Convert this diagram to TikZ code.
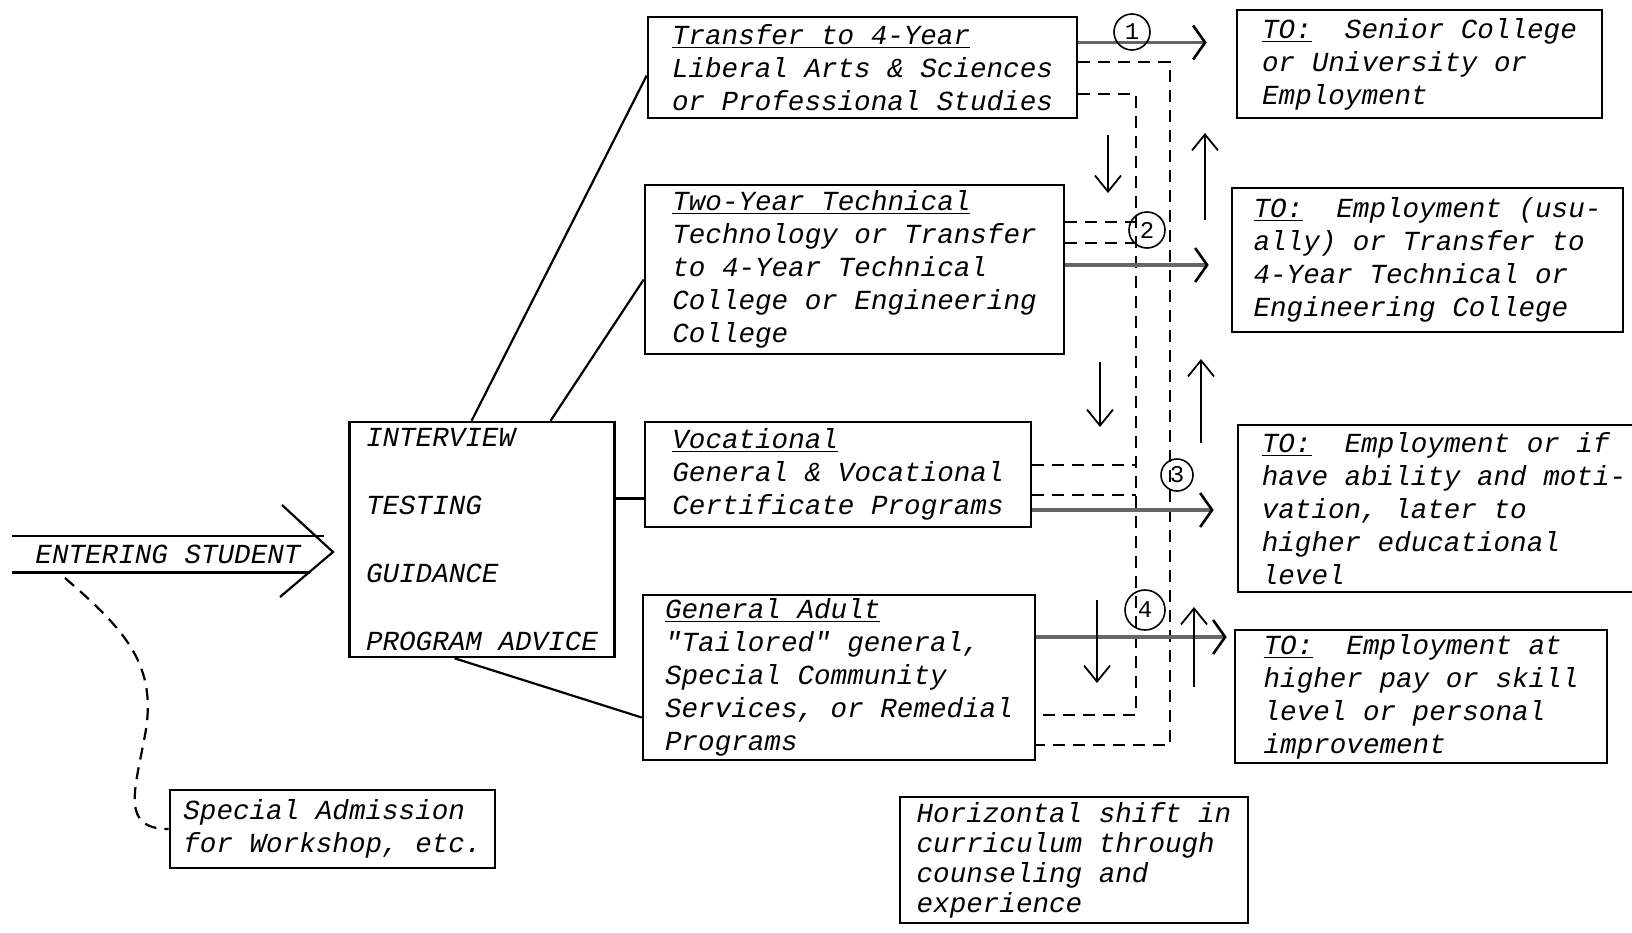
\documentclass[tikz,border=0pt]{standalone}
\usepackage{fontspec}
\usepackage{tikz}
\usetikzlibrary{arrows.meta,calc}
\newfontfamily\scanfont{Liberation Mono}

\begin{document}
\begin{tikzpicture}[x=0.5pt, y=-0.5pt,
	every node/.style={font=\scanfont\itshape\fontsize{13.8}{16.5}\selectfont},
	prog/.style={draw, line width=1.3pt, align=left, inner sep=1pt},
	num/.style={draw, circle, line width=0.8pt, inner sep=0pt, font=\scanfont\fontsize{12}{12}\selectfont},
	link/.style={line width=1.1pt},
	route/.style={line width=1.6pt, draw=black!60, -{Straight Barb[length=6pt, width=17pt, line width=1.3pt, color=black]}},
	shiftline/.style={line width=1.1pt, dash pattern=on 6pt off 4pt},
	move/.style={line width=0.9pt, -{Straight Barb[length=8pt, width=13pt]}}]
	\useasboundingbox (0,0) rectangle (1632,932);
	\node[prog, minimum width=132.5pt, minimum height=117.5pt] (intake) at (482,539.5) {INTERVIEW\\[17.5pt]TESTING\\[17.5pt]GUIDANCE\\[17.5pt]PROGRAM ADVICE};
	\node[prog, minimum width=214.5pt, minimum height=50.5pt] (trans) at (862.5,67.5) {\underline{Transfer to 4-Year}\\Liberal Arts \& Sciences\\or Professional Studies};
	\node[prog, minimum width=209.5pt, minimum height=84.5pt] (tech) at (854.5,269.5) {\underline{Two-Year Technical}\\Technology or Transfer\\to 4-Year Technical\\College or Engineering\\College};
	\node[prog, minimum width=193pt, minimum height=52.5pt] (voc) at (838,474.5) {\underline{Vocational}\\General \& Vocational\\Certificate Programs};
	\node[prog, minimum width=196pt, minimum height=82.5pt] (adult) at (839,677.5) {\underline{General Adult}\\\symbol{34}Tailored\symbol{34} general,\\Special Community\\Services, or Remedial\\Programs};
	\node[prog, minimum width=182.5pt, minimum height=54pt] (dest1) at (1419.5,64) {\underline{TO:}\ \ Senior College\\or University or\\Employment};
	\node[prog, minimum width=195.5pt, minimum height=72pt] (dest2) at (1427.5,260) {\underline{TO:}\ \ Employment (usu-\\ally) or Transfer to\\4-Year Technical or\\Engineering College};
	\node[prog, minimum width=206pt, minimum height=83.5pt] (dest3) at (1444,508.5) {\underline{TO:}\ \ Employment or if\\have ability and moti-\\vation, later to\\higher educational\\level};
	\node[prog, minimum width=186pt, minimum height=66.5pt] (dest4) at (1421,696.5) {\underline{TO:}\ \ Employment at\\higher pay or skill\\level or personal\\improvement};
	\node[prog, minimum width=162.5pt, minimum height=39pt] (special) at (332.5,829) {Special Admission\\for Workshop, etc.};
	\node[prog, minimum width=174pt, minimum height=63pt, font=\scanfont\itshape\fontsize{13.8}{15}\selectfont] (shift) at (1074,860) {Horizontal shift in\\curriculum through\\counseling and\\experience};
	\node[minimum width=156pt, minimum height=18pt, inner sep=0pt] (entry) at (168,554) {ENTERING STUDENT};
	\draw[link] (entry.north west) -- (entry.north east);
	\draw[link] (entry.south west) -- ([xshift=-7pt]entry.south east);
	\draw[link] (282,505) -- (333,552) -- (280,597);
	\coordinate (lead) at (65,578);
	\draw[shiftline] (lead) .. controls (125,630) and (158,665) .. (145,735) .. controls (135,790) and (120,829) .. (special.west);
	\draw[link] (intake.95) -- ([yshift=-4pt]trans.west);
	\draw[link] (intake.60) -- ([yshift=-5pt]tech.west);
	\coordinate (vocin) at ([yshift=-12pt]voc.west);
	\draw[link] (vocin -| intake.east) -- (vocin);
	\draw[link] (intake.257) -- ([yshift=-20pt]adult.west);
	\coordinate (outer) at (1170,0); \coordinate (inner) at (1136,0);
	\coordinate (o1) at ([yshift=2.75pt]trans.east); \coordinate (o2) at ([yshift=-33.75pt]adult.east);
	\draw[shiftline] (o1) -- (o1 -| outer) -- (o2 -| outer) -- (o2);
	\coordinate (i1) at ([yshift=-13.25pt]trans.east); \coordinate (i2) at ([yshift=-18.75pt]adult.east);
	\draw[shiftline] (i1) -- (i1 -| inner) -- (i2 -| inner) -- (i2);
	\foreach \src/\dy in {tech/23.75, tech/13.25, voc/4.75, voc/-10.25} {\coordinate (b) at ([yshift=\dy pt]\src.east); \draw[shiftline] (b) -- (b -| inner);}
	\foreach \src/\dst/\dy/\gap in {trans/dest1/12.5/14.5, tech/dest2/2.25/11, voc/dest3/-17.75/11.5, adult/dest4/20.25/3.5} {\coordinate (s) at ([yshift=\dy pt]\src.east); \draw[route, shorten >=\gap pt] (s) -- (s -| \dst.west);}
	\foreach \x/\ya/\yb in {1108/135/193, 1100/362/427, 1097/600/683, 1205/220/133, 1201/443/359, 1194/687/607} {\draw[move] (\x,\ya) -- (\x,\yb);}
	\node[num, minimum size=18pt] (n1) at (1132,32) {1};
	\node[num, minimum size=18pt] (n2) at (1147,230) {2};
	\node[num, minimum size=16pt] (n3) at (1177,475) {3};
	\node[num, minimum size=20pt] (n4) at (1145,610) {4};
\end{tikzpicture}
\end{document}
